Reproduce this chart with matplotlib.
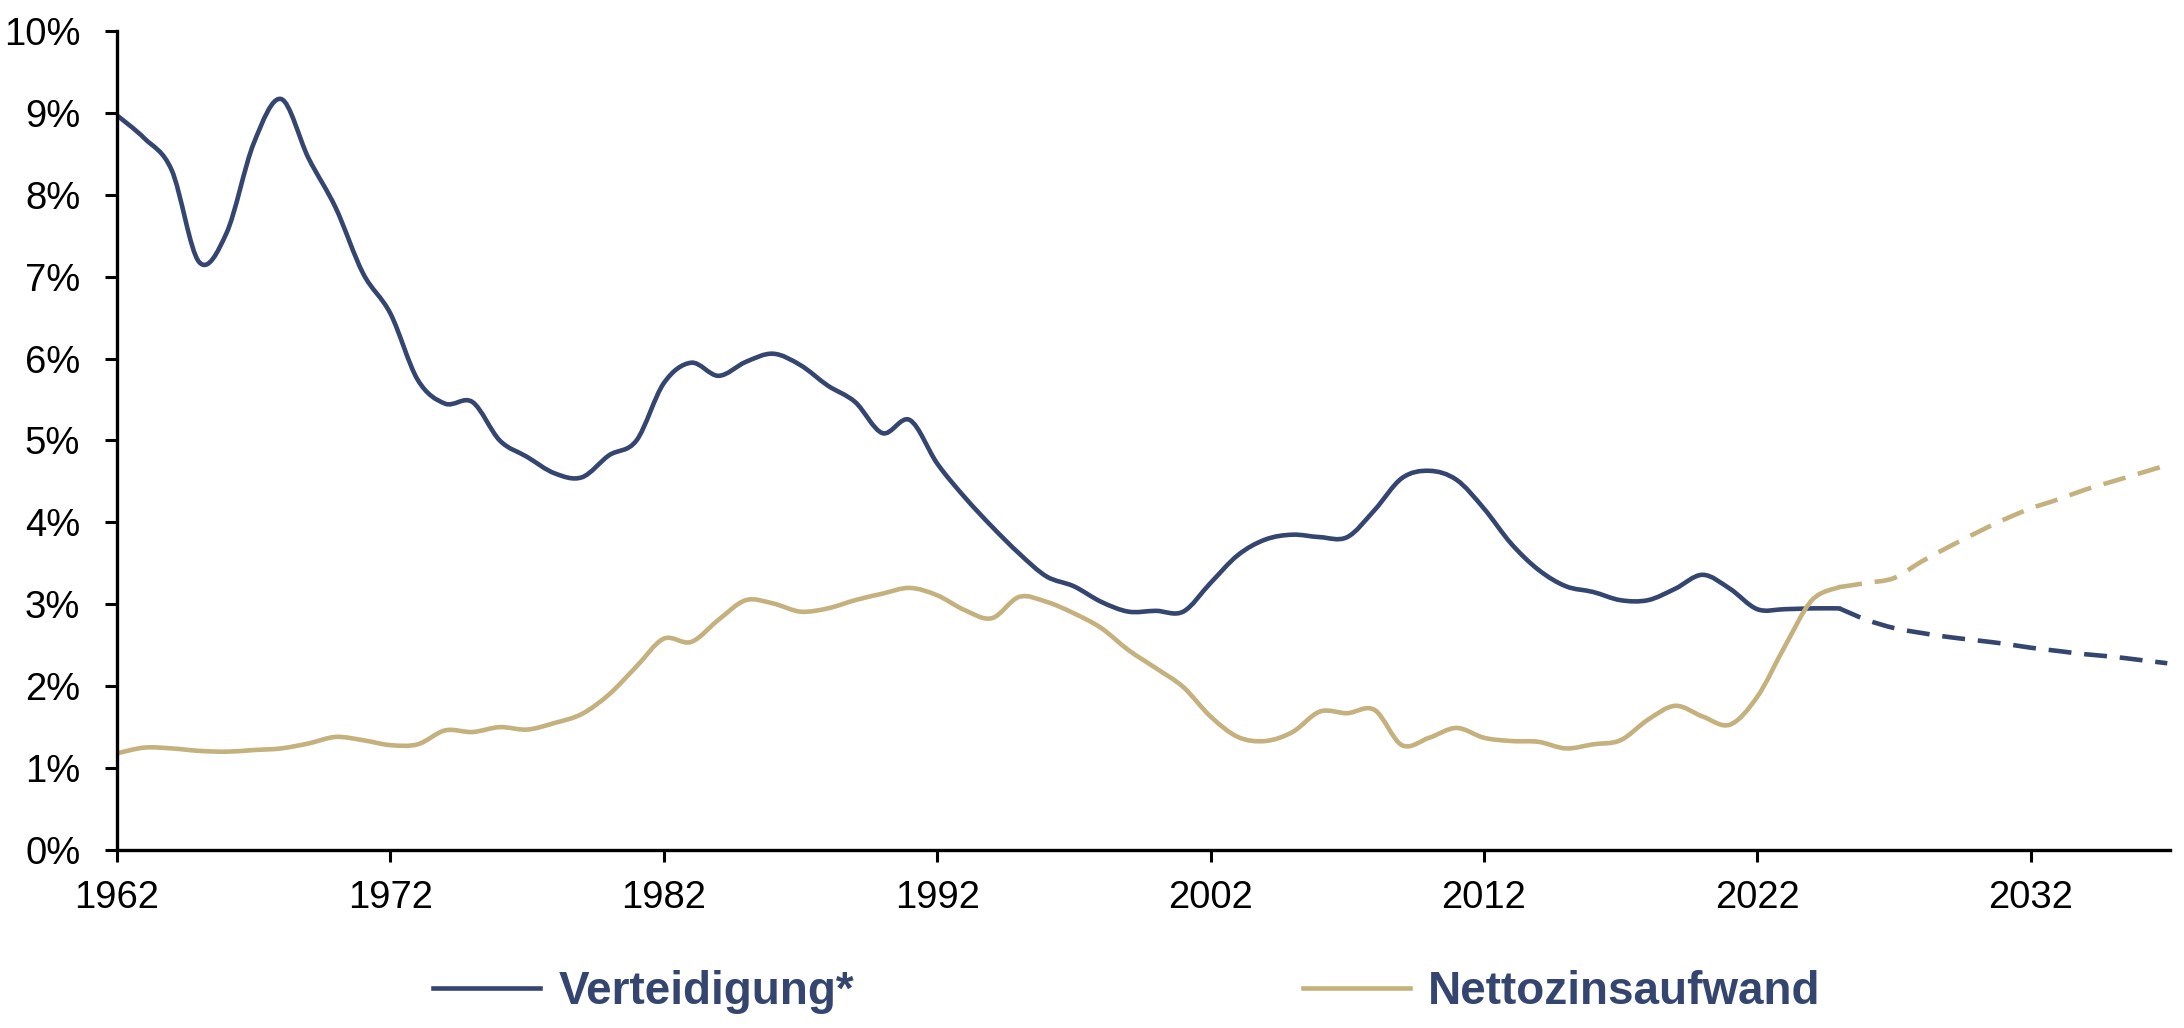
import matplotlib

matplotlib.use("Agg")
import matplotlib.pyplot as plt
import numpy as np
from matplotlib.lines import Line2D
from matplotlib.patches import PathPatch
from matplotlib.path import Path

plt.rcParams["font.family"] = ["Liberation Sans", "DejaVu Sans"]

NAVY = "#34466F"
TAN = "#C4B17D"

# historische Werte (% des BIP), 1962-2025
years_hist = list(range(1962, 2026))
verteidigung = [
    8.97, 8.69, 8.30, 7.18, 7.53, 8.63, 9.17, 8.45, 7.84, 7.04,
    6.55, 5.74, 5.45, 5.47, 5.00, 4.80, 4.60, 4.55, 4.82, 5.00,
    5.70, 5.95, 5.79, 5.96, 6.06, 5.92, 5.67, 5.47, 5.09, 5.25,
    4.72, 4.31, 3.95, 3.62, 3.34, 3.22, 3.03, 2.91, 2.92, 2.91,
    3.26, 3.60, 3.79, 3.85, 3.82, 3.82, 4.15, 4.54, 4.63, 4.52,
    4.17, 3.74, 3.42, 3.22, 3.15, 3.05, 3.05, 3.19, 3.36, 3.19,
    2.94, 2.94, 2.95, 2.95,
]
nettozins = [
    1.18, 1.25, 1.24, 1.21, 1.20, 1.22, 1.24, 1.30, 1.38, 1.34,
    1.28, 1.29, 1.46, 1.44, 1.50, 1.47, 1.55, 1.66, 1.90, 2.24,
    2.58, 2.54, 2.81, 3.05, 3.01, 2.91, 2.95, 3.05, 3.13, 3.20,
    3.11, 2.93, 2.83, 3.09, 3.03, 2.89, 2.71, 2.44, 2.22, 1.99,
    1.63, 1.38, 1.33, 1.44, 1.69, 1.67, 1.71, 1.28, 1.37, 1.49,
    1.37, 1.33, 1.32, 1.24, 1.29, 1.34, 1.59, 1.76, 1.63, 1.53,
    1.87, 2.48, 3.05, 3.21,
]

# Projektion 2025-2037
years_proj = list(range(2025, 2038))
verteidigung_proj = [2.95, 2.81, 2.71, 2.65, 2.60, 2.56, 2.52, 2.47, 2.43, 2.39, 2.36, 2.32, 2.28]
nettozins_proj = [3.21, 3.26, 3.32, 3.52, 3.70, 3.87, 4.03, 4.17, 4.28, 4.40, 4.50, 4.60, 4.70]

x_ticks = list(range(1962, 2033, 10))
y_ticks = list(range(0, 11))


def smooth_path(xs, ys):
    """Glatte Bezier-Kurve durch alle Punkte (wie Excel 'geglättete Linie')."""
    p = np.column_stack([xs, ys]).astype(float)
    n = len(p)
    verts = [p[0]]
    codes = [Path.MOVETO]
    for i in range(n - 1):
        p0 = p[i - 1] if i > 0 else p[i]
        p3 = p[i + 2] if i + 2 < n else p[i + 1]
        c1 = p[i] + (p[i + 1] - p0) / 6
        c2 = p[i + 1] - (p3 - p[i]) / 6
        verts += [c1, c2, p[i + 1]]
        codes += [Path.CURVE4] * 3
    return Path(verts, codes)


fig = plt.figure(figsize=(21.84, 10.28), dpi=100)
ax = fig.add_axes([0.0536, 0.1732, 0.9400, 0.7966])

lw = 3.3
dash = (0, (5.0, 2.8))
ax.add_patch(PathPatch(smooth_path(years_hist, verteidigung), fill=False,
                       edgecolor=NAVY, lw=lw, capstyle="round"))
ax.add_patch(PathPatch(smooth_path(years_hist, nettozins), fill=False,
                       edgecolor=TAN, lw=lw, capstyle="round"))
ax.add_patch(PathPatch(smooth_path(years_proj, verteidigung_proj), fill=False,
                       edgecolor=NAVY, lw=lw, linestyle=dash))
ax.add_patch(PathPatch(smooth_path(years_proj, nettozins_proj), fill=False,
                       edgecolor=TAN, lw=lw, linestyle=dash))

ax.set_xlim(1962, 2037.1)
ax.set_ylim(0, 10)
ax.set_xticks(x_ticks)
ax.set_yticks(y_ticks)
ax.set_yticklabels([f"{v}%" for v in y_ticks])

for s in ["top", "right"]:
    ax.spines[s].set_visible(False)
for s in ["left", "bottom"]:
    ax.spines[s].set_linewidth(2.4)
    ax.spines[s].set_color("black")
ax.tick_params(axis="both", direction="out", length=8.5, width=2.2,
               labelsize=27.5, colors="black")
ax.tick_params(axis="y", pad=18)
ax.tick_params(axis="x", pad=13)

handles = [Line2D([], [], color=NAVY, lw=lw), Line2D([], [], color=TAN, lw=lw)]
leg = fig.legend(handles, ["Verteidigung*", "Nettozinsaufwand"], ncol=2,
                 loc="center", bbox_to_anchor=(0.516, 0.035), frameon=False,
                 handlelength=2.34, handletextpad=0.39, columnspacing=9.8,
                 borderpad=0, prop={"size": 33, "weight": "bold"},
                 labelcolor=NAVY)

fig.savefig("out.png", dpi=100, facecolor="white")
